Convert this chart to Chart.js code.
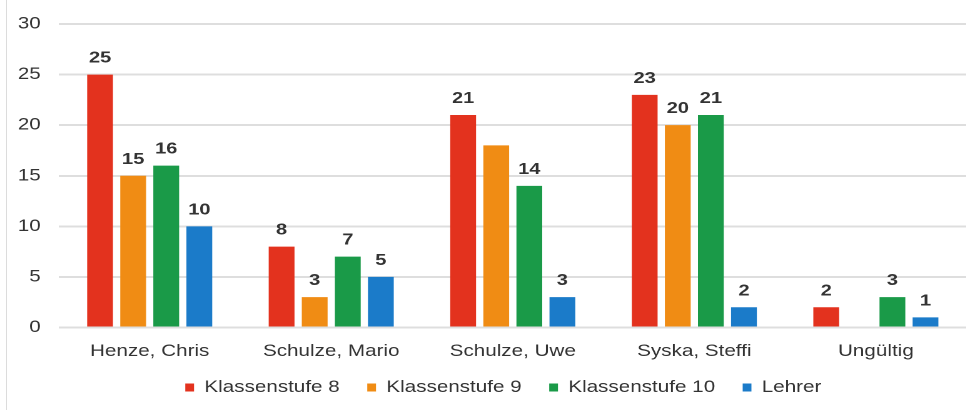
<!DOCTYPE html>
<html>
<head>
<meta charset="utf-8">
<script src="https://cdn.jsdelivr.net/npm/chart.js@4"></script>
<style>
    html, body { margin: 0; padding: 0; background: #fff; overflow: hidden; }
    #frame { position: absolute; left: 6px; top: 0; width: 1px; height: 410px; background: #dcdcdc; }
    /* the reference is stretched wide, so the chart is drawn narrow and scaled on x */
    #wrap { position: absolute; left: 0; top: 0; width: 772.8px; height: 410px; transform: scaleX(1.25); transform-origin: 0 0; }
</style>
</head>
<body>
<div id="frame"></div>
<div id="wrap"><canvas id="voteChart"></canvas></div>
<script>
// DATA
const candidates = ['Henze, Chris', 'Schulze, Mario', 'Schulze, Uwe', 'Syska, Steffi', 'Ungültig'];
const seriesNames = ['Klassenstufe 8', 'Klassenstufe 9', 'Klassenstufe 10', 'Lehrer'];
const klasse8 = [25, 8, 21, 23, 2];
const klasse9 = [15, 3, 18, 20, 0];
const klasse10 = [16, 7, 14, 21, 3];
const lehrer = [10, 5, 3, 2, 1];
const yTicks = [0, 5, 10, 15, 20, 25, 30];
// labels missing in the picture: [dataset, index]
const hiddenLabels = [[1, 2]];

const colors = ['#e3321e', '#f08c14', '#1a9a48', '#1b7bc9'];
const textColor = '#333333';
const fontFamily = "'Liberation Sans', Arial, sans-serif";

Chart.defaults.font.family = fontFamily;
Chart.defaults.color = textColor;

// VALUE LABELS ABOVE BARS
const valueLabels = {
    id: 'valueLabels',
    afterDatasetsDraw(chart) {
        const ctx = chart.ctx;
        ctx.save();
        ctx.font = 'bold 16px ' + fontFamily;
        ctx.fillStyle = textColor;
        ctx.textAlign = 'center';
        ctx.textBaseline = 'alphabetic';
        chart.data.datasets.forEach((ds, di) => {
            chart.getDatasetMeta(di).data.forEach((bar, i) => {
                const v = ds.data[i];
                if (!v) return;
                if (hiddenLabels.some(h => h[0] === di && h[1] === i)) return;
                ctx.fillText(String(v), bar.x, bar.y - 12);
            });
        });
        ctx.restore();
    }
};

// y tick labels, right aligned a fixed gap left of the plot
const yLabels = {
    id: 'yLabels',
    afterDraw(chart) {
        const ctx = chart.ctx;
        const y = chart.scales.y;
        const x = chart.chartArea.left - 14.5;
        ctx.save();
        ctx.font = '16.5px ' + fontFamily;
        ctx.fillStyle = textColor;
        ctx.textAlign = 'right';
        ctx.textBaseline = 'middle';
        yTicks.forEach(v => ctx.fillText(String(v), x, y.getPixelForValue(v)));
        ctx.restore();
    }
};

// nudge the legend a bit (it sits off-centre in the picture)
const legendShift = {
    id: 'legendShift',
    afterUpdate(chart) {
        const lg = chart.legend;
        if (!lg) return;
        lg.left -= 10.35; lg.right -= 10.35;
        lg.top -= 5.25; lg.bottom -= 5.25;
    }
};

const allSeries = [klasse8, klasse9, klasse10, lehrer];

new Chart(document.getElementById('voteChart'), {
    type: 'bar',
    data: {
        labels: candidates,
        datasets: allSeries.map((d, i) => ({
            label: seriesNames[i],
            data: d,
            backgroundColor: colors[i],
            borderWidth: 0,
            categoryPercentage: 0.729,
            barPercentage: 0.78
        }))
    },
    options: {
        responsive: true,
        maintainAspectRatio: false,
        animation: false,
        devicePixelRatio: 2,
        layout: { padding: { left: 47.1, right: -5.6, top: 24, bottom: -1 } },
        plugins: {
            legend: {
                position: 'bottom',
                labels: {
                    boxWidth: 7,
                    boxHeight: 8,
                    padding: 22,
                    color: textColor,
                    font: { size: 16.5 }
                }
            },
            tooltip: { enabled: false }
        },
        scales: {
            x: {
                grid: { display: false, drawTicks: false },
                border: { display: false },
                ticks: { padding: 14.2, color: textColor, font: { size: 16.5 } },
                afterFit: s => { s.height = 35; }
            },
            y: {
                min: 0,
                max: 30,
                afterBuildTicks: s => { s.ticks = yTicks.map(v => ({ value: v })); },
                grid: { color: '#dedede', lineWidth: 2, drawTicks: false },
                border: { display: false },
                ticks: { display: false },
                afterFit: s => { s.width = 0; }
            }
        }
    },
    plugins: [valueLabels, yLabels, legendShift]
});
</script>
</body>
</html>
